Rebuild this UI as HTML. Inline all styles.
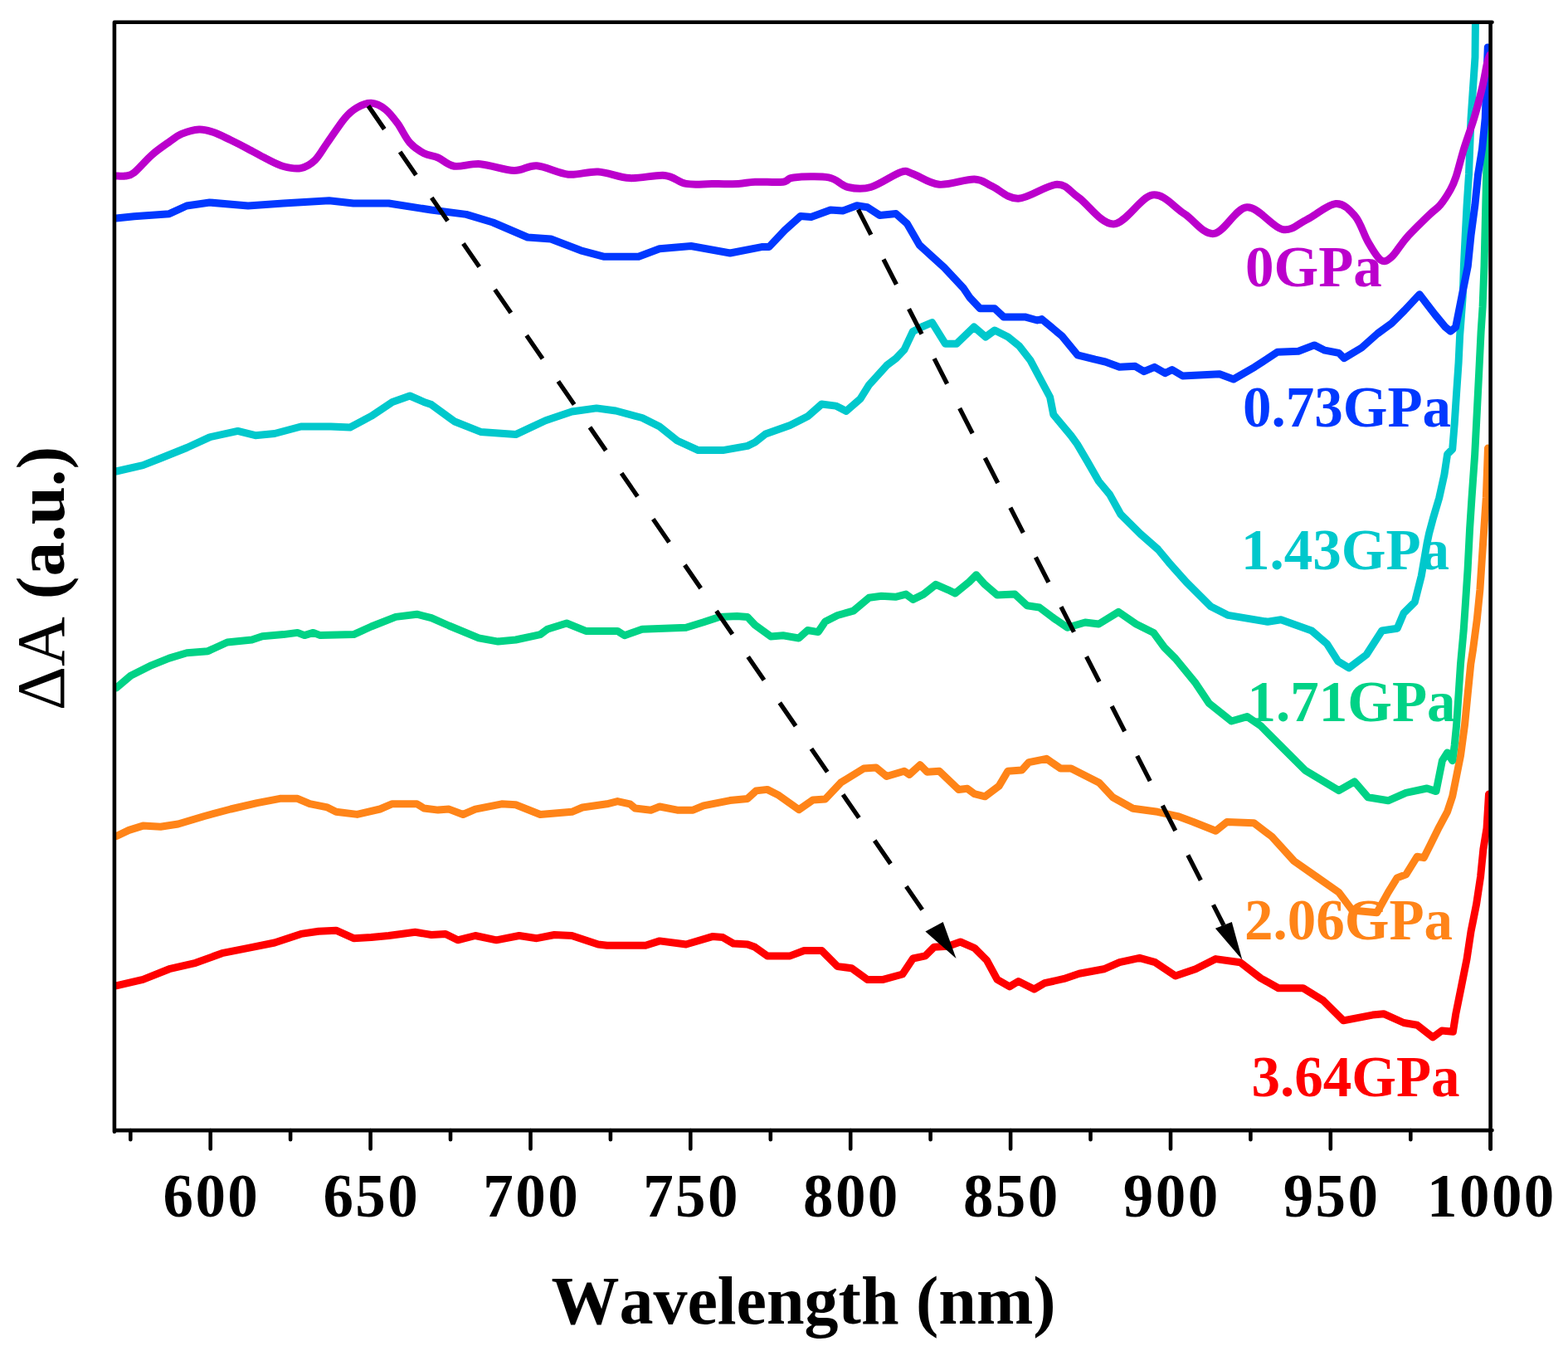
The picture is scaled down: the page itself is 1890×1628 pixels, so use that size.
<!DOCTYPE html>
<html><head><meta charset="utf-8"><title>Delta A vs Wavelength</title>
<style>html,body{margin:0;padding:0;background:#fff;width:1890px;height:1628px;overflow:hidden}svg{display:block}</style>
</head><body>
<svg width="1890" height="1628" viewBox="0 0 1890 1628"><rect x="0" y="0" width="1890" height="1628" fill="#fff"/>
<defs><clipPath id="pc"><rect x="137.9" y="26.7" width="1658.7" height="1335.4"/></clipPath></defs>
<g clip-path="url(#pc)" fill="none" stroke-width="9.0" stroke-linejoin="round" stroke-linecap="round">
<path d="M140.0 1187.8L172.3 1180.4L204.0 1167.7L235.8 1160.3L267.6 1148.7L299.3 1142.3L331.0 1136.0L362.8 1125.4L384.0 1122.2L405.1 1121.2L426.3 1130.7L447.5 1129.6L468.6 1127.5L500.4 1123.3L520.0 1126.5L537.0 1125.4L551.7 1132.8L572.9 1127.5L598.3 1132.8L625.8 1127.5L647.0 1130.7L668.2 1126.5L689.3 1127.5L721.0 1138.0L731.6 1139.2L778.2 1139.2L795.1 1133.9L826.9 1138.0L858.6 1128.6L871.3 1129.6L884.0 1137.0L901.0 1138.0L910.0 1141.3L924.8 1151.9L952.3 1151.9L969.3 1145.5L990.4 1145.5L1009.5 1164.6L1026.4 1166.7L1045.4 1180.4L1064.5 1180.4L1087.8 1174.0L1100.5 1155.0L1115.3 1151.9L1125.9 1141.3L1142.8 1140.2L1157.6 1135.0L1174.5 1142.3L1189.4 1157.1L1202.0 1180.4L1216.9 1188.9L1227.5 1182.5L1246.5 1192.0L1259.2 1184.7L1282.5 1179.4L1300.8 1173.2L1330.5 1167.8L1349.4 1159.7L1373.6 1154.3L1392.5 1159.7L1416.8 1175.9L1441.1 1167.8L1465.4 1155.6L1495.0 1159.7L1519.4 1178.6L1541.0 1190.7L1570.6 1190.7L1594.9 1205.6L1619.2 1229.8L1654.3 1223.1L1667.8 1221.7L1692.0 1232.5L1708.2 1235.2L1727.1 1250.0L1737.9 1242.0L1751.4 1243.3L1754.7 1222.2L1761.4 1189.0L1768.0 1155.8L1773.0 1122.7L1779.6 1089.5L1784.6 1056.3L1787.9 1023.2L1792.0 998.3L1794.5 957.0" stroke="#FF0000"/>
<path d="M140.0 1007.8L155.4 1000.4L172.3 995.1L193.5 996.2L214.7 993.0L246.4 983.5L278.1 975.0L309.9 967.6L337.4 962.3L358.6 962.3L373.4 968.7L394.6 972.9L405.1 978.2L430.5 981.4L458.0 975.0L472.9 968.7L502.5 968.7L511.0 974.0L528.0 976.1L541.2 975.1L558.1 981.5L572.9 975.1L604.7 968.8L621.6 969.8L651.2 981.5L689.3 978.3L702.0 973.0L731.6 968.8L744.3 965.6L759.2 968.8L765.5 974.0L784.5 976.2L795.1 972.0L816.3 976.2L835.3 976.2L848.0 970.9L879.8 964.6L901.0 962.4L911.5 952.9L924.8 951.4L937.5 957.7L962.9 975.7L979.8 964.0L994.7 963.0L1013.7 942.9L1041.2 926.0L1056.0 925.0L1068.7 935.5L1089.9 929.2L1096.2 933.4L1109.0 921.7L1117.4 930.2L1132.2 929.2L1155.5 951.4L1166.0 950.3L1174.5 956.7L1187.2 959.8L1204.2 947.1L1214.8 929.2L1231.7 928.1L1240.2 918.6L1261.3 914.3L1278.3 926.0L1291.0 926.0L1325.0 943.2L1341.3 960.7L1365.6 974.2L1395.2 978.3L1419.5 983.6L1438.4 990.5L1465.4 1001.2L1478.9 990.4L1511.3 991.7L1532.9 1008.0L1559.8 1037.6L1586.8 1056.5L1613.8 1075.4L1630.0 1097.0L1659.7 1099.7L1673.2 1075.4L1684.0 1057.9L1694.7 1053.8L1708.2 1032.2L1716.3 1033.6L1734.7 996.6L1744.6 978.1L1750.7 959.7L1755.6 935.1L1760.5 910.6L1765.5 873.7L1769.1 836.9L1772.8 800.0L1775.3 784.3L1780.2 747.4L1783.9 710.6L1786.3 673.7L1788.8 636.9L1791.3 600.0L1793.5 540.0" stroke="#FF8418"/>
<path d="M140.0 829.1L157.5 814.3L182.9 801.6L204.0 793.1L225.2 786.8L250.6 784.7L273.9 774.0L303.5 771.0L316.2 766.7L341.6 764.6L358.6 762.4L367.0 765.6L377.6 762.4L386.0 765.6L426.3 764.6L447.5 755.0L477.0 743.4L502.5 740.2L520.0 744.6L541.2 754.0L577.1 768.9L600.4 773.1L621.6 771.0L651.2 764.7L659.7 758.3L683.0 751.0L706.2 760.4L744.3 760.4L752.8 765.7L774.0 758.3L826.9 756.2L848.0 749.8L867.0 743.5L888.3 742.4L901.0 743.5L910.0 753.1L929.0 766.9L943.9 765.8L962.9 769.0L973.5 759.5L986.2 761.6L994.7 748.9L1009.5 741.5L1028.5 736.2L1047.6 720.3L1062.4 718.2L1079.3 719.3L1092.0 716.1L1100.5 722.4L1113.2 716.1L1128.0 704.4L1142.8 710.8L1151.3 715.0L1168.2 701.3L1176.7 692.8L1187.2 704.4L1202.0 717.1L1223.2 716.0L1238.0 729.8L1252.9 732.0L1269.8 744.7L1286.7 756.3L1308.0 750.0L1324.4 752.0L1348.2 737.4L1369.4 752.0L1390.5 762.5L1403.3 780.0L1416.8 793.5L1441.1 823.2L1457.3 847.5L1484.3 869.0L1503.2 863.6L1519.4 874.4L1543.6 898.7L1573.3 928.4L1613.8 952.7L1632.7 941.9L1648.9 960.8L1673.2 964.8L1694.7 955.4L1720.0 950.0L1731.0 953.6L1734.7 935.1L1738.4 916.7L1744.6 906.9L1750.7 916.7L1753.2 898.3L1755.6 873.7L1758.1 836.9L1760.5 800.0L1764.2 759.7L1766.7 722.9L1769.1 686.0L1771.6 636.9L1774.0 600.0L1777.7 547.4L1780.2 498.3L1782.7 449.0L1785.1 400.0L1787.1 369.7L1789.0 320.6L1790.2 271.4L1791.6 212.0L1793.3 155.0L1795.0 100.0" stroke="#00D286"/>
<path d="M140.0 568.0L172.3 560.6L193.5 552.2L225.2 539.5L252.7 526.8L286.6 519.4L307.8 524.7L331.0 522.5L362.8 514.0L398.8 514.0L422.0 515.0L447.5 501.4L472.9 484.4L494.0 477.0L511.0 484.4L520.0 487.6L547.5 507.7L579.3 520.4L621.6 523.6L657.6 506.7L689.3 496.0L719.0 491.9L742.2 495.0L774.0 503.5L795.0 514.0L816.3 531.0L841.7 542.6L871.3 542.6L901.0 537.4L910.0 533.0L922.7 523.0L952.3 512.4L973.5 501.8L990.4 487.0L1007.4 489.1L1020.0 495.4L1037.0 480.6L1047.6 463.7L1068.7 440.4L1080.0 431.9L1090.0 421.4L1100.3 399.5L1111.0 394.0L1123.5 388.6L1139.5 414.3L1153.0 414.3L1174.0 394.0L1188.0 406.0L1199.0 398.0L1215.0 406.0L1228.6 417.0L1242.2 434.6L1255.7 460.0L1265.6 478.5L1269.8 499.7L1291.0 525.0L1298.5 535.4L1311.0 556.6L1324.4 580.0L1337.6 595.9L1350.8 619.7L1374.7 643.5L1395.8 662.0L1409.0 677.9L1430.2 701.7L1459.3 730.8L1480.5 741.4L1528.0 749.3L1544.0 746.7L1581.0 760.0L1599.5 775.8L1612.8 796.9L1626.0 804.9L1647.0 789.0L1665.7 760.0L1684.2 757.2L1692.0 738.7L1705.3 725.5L1713.3 693.8L1720.0 655.0L1722.5 643.0L1727.4 624.6L1734.7 600.0L1740.9 572.0L1744.6 547.4L1750.7 541.3L1753.2 510.6L1755.6 473.7L1758.1 436.9L1759.6 405.0L1763.2 357.4L1764.4 320.6L1766.2 283.7L1768.1 246.9L1770.5 210.0L1773.0 142.8L1775.5 106.0L1778.0 69.0L1778.5 20.0" stroke="#00C8CC"/>
<path d="M140.0 263.0L161.7 260.8L204.0 257.7L225.0 248.0L252.7 244.0L299.0 248.0L341.6 245.0L396.7 241.8L426.0 245.0L468.6 245.0L520.0 253.0L562.0 258.4L594.0 268.0L636.0 286.0L664.0 288.0L700.0 301.8L727.4 309.2L769.7 309.2L795.0 299.7L833.0 296.5L880.0 305.0L918.0 297.6L927.0 297.5L946.0 277.4L965.0 260.4L977.7 261.5L1001.0 253.0L1015.8 254.0L1032.8 247.7L1045.5 249.8L1060.3 259.4L1080.0 257.6L1093.5 269.7L1108.4 295.4L1123.2 308.9L1138.1 322.4L1161.0 346.8L1169.2 358.9L1181.4 371.8L1198.9 371.8L1209.7 381.9L1235.4 381.9L1250.3 386.0L1255.7 384.6L1280.0 404.9L1298.9 427.8L1320.0 433.2L1332.3 436.0L1349.3 442.3L1368.3 441.3L1378.9 447.6L1391.6 442.3L1404.3 449.7L1412.8 445.5L1425.5 453.0L1470.0 450.8L1486.8 457.0L1512.2 442.3L1539.7 424.3L1565.0 423.3L1584.2 415.9L1596.9 422.2L1613.8 425.4L1620.2 431.7L1641.3 419.0L1660.4 402.0L1677.4 389.6L1693.0 374.0L1711.0 354.7L1723.8 371.5L1723.8 371.5L1730.0 379.5L1742.3 394.3L1748.4 399.2L1754.6 394.3L1759.5 369.7L1764.4 345.0L1769.3 320.6L1773.0 283.7L1777.9 246.9L1781.6 210.0L1786.5 179.7L1790.2 142.8L1793.3 56.9" stroke="#0038FF"/>
<path d="M140.0 212.0C141.8 212.0 147.4 212.7 151.0 212.0C154.6 211.3 156.4 212.2 161.7 208.0C167.0 203.8 175.8 193.0 182.9 186.8C190.0 180.6 198.0 175.2 204.0 171.0C210.0 166.8 212.9 163.9 218.9 161.4C224.9 158.9 233.7 156.3 240.0 156.0C246.3 155.7 250.7 157.2 257.0 159.3C263.3 161.4 271.0 165.5 278.0 168.8C285.0 172.2 291.9 175.7 299.0 179.4C306.1 183.1 313.4 187.5 320.5 191.0C327.6 194.5 334.6 198.6 341.6 200.5C348.7 202.4 356.5 203.8 362.8 202.6C369.1 201.3 374.4 198.1 379.7 193.0C385.0 187.9 388.6 180.4 394.6 172.0C400.6 163.6 409.7 149.4 415.7 142.3C421.7 135.2 425.2 132.6 430.5 129.6C435.8 126.6 441.9 124.0 447.5 124.3C453.1 124.6 459.1 127.6 464.4 131.7C469.7 135.8 474.3 142.0 479.2 148.7C484.1 155.4 488.7 166.0 494.0 172.0C499.3 178.0 505.3 181.7 511.0 184.7C516.7 187.7 521.9 187.4 528.0 190.0C534.1 192.6 539.0 198.9 547.5 200.2C556.0 201.5 567.0 196.8 579.0 197.7C591.0 198.6 608.2 205.2 619.5 205.5C630.8 205.8 636.1 199.0 647.0 199.8C657.9 200.6 672.7 209.0 685.0 210.2C697.3 211.4 708.7 206.3 721.0 207.0C733.3 207.7 745.6 213.9 759.0 214.6C772.4 215.3 790.2 210.3 801.5 211.4C812.8 212.5 817.6 219.7 827.0 221.4C836.4 223.1 847.5 221.6 858.0 221.6C868.5 221.6 881.3 221.8 890.0 221.4C898.7 221.0 901.0 219.6 910.0 219.2C919.0 218.8 936.1 220.1 943.9 219.2C951.7 218.3 947.4 214.8 956.6 213.9C965.8 213.0 988.0 212.0 998.9 213.9C1009.8 215.8 1013.5 223.6 1022.0 225.5C1030.5 227.4 1039.1 228.5 1049.7 225.5C1060.3 222.5 1077.2 210.2 1085.7 207.5C1094.2 204.8 1092.8 207.1 1100.5 209.6C1108.2 212.1 1119.7 221.2 1132.0 222.3C1144.3 223.4 1163.9 215.7 1174.5 216.0C1185.1 216.3 1186.9 220.5 1195.7 224.4C1204.5 228.3 1214.5 239.7 1227.5 239.3C1240.5 239.0 1261.9 222.5 1274.0 222.3C1286.1 222.1 1288.6 230.1 1300.0 238.0C1311.4 245.9 1327.5 270.5 1342.3 270.0C1357.1 269.5 1374.8 237.1 1388.9 235.0C1403.0 232.9 1414.7 249.4 1427.0 257.2C1439.3 265.0 1450.3 282.8 1463.0 281.6C1475.7 280.4 1489.2 250.7 1503.0 249.8C1516.8 248.9 1533.5 273.8 1545.5 276.3C1557.5 278.8 1564.2 269.8 1575.0 264.7C1585.8 259.6 1600.2 246.3 1610.0 245.6C1619.8 244.9 1627.0 253.0 1633.5 260.6C1640.0 268.2 1643.8 282.7 1649.0 291.5C1654.2 300.3 1659.8 310.5 1664.5 313.5C1669.2 316.5 1672.2 314.1 1677.4 309.6C1682.6 305.1 1687.8 295.0 1695.5 286.4C1703.2 277.8 1717.0 264.6 1723.8 258.0C1730.6 251.4 1732.0 251.8 1736.1 246.9C1740.2 242.0 1745.2 234.1 1748.4 228.4C1751.6 222.8 1752.3 221.1 1755.0 213.0C1757.7 204.9 1760.8 191.4 1764.4 179.7C1768.0 168.0 1773.0 155.1 1776.7 142.8C1780.4 130.5 1783.8 117.2 1786.5 106.0C1789.2 94.8 1791.1 82.0 1792.7 75.3C1794.3 68.6 1795.5 67.5 1796.0 66.0" stroke="#BB00CC"/>
</g>
<line x1="444.0" y1="127.6" x2="1126.0" y2="1117.0" stroke="#000" stroke-width="5.4" stroke-dasharray="34 33.2"/><polygon points="1115.4,1122.6 1152.5,1155.0 1136.7,1111.0" fill="#000"/>
<line x1="1034.4" y1="252.6" x2="1475.0" y2="1115.0" stroke="#000" stroke-width="5.4" stroke-dasharray="34 33.2"/><polygon points="1464.9,1118.7 1497.3,1156.6 1484.8,1111.0" fill="#000"/>
<g stroke="#000" stroke-width="4.6" stroke-linecap="round" fill="none">
<path d="M137.9 26.7L1798.5 26.7M137.9 1362.1L1798.5 1362.1M137.9 26.7L137.9 1363.7M1796.6 26.7L1796.6 1384.5"/>
<path d="M157.3 1362.1L157.3 1373.2M253.7 1362.1L253.7 1384.5M350.1 1362.1L350.1 1373.2M446.6 1362.1L446.6 1384.5M543.0 1362.1L543.0 1373.2M639.5 1362.1L639.5 1384.5M735.9 1362.1L735.9 1373.2M832.3 1362.1L832.3 1384.5M928.8 1362.1L928.8 1373.2M1025.2 1362.1L1025.2 1384.5M1121.6 1362.1L1121.6 1373.2M1218.1 1362.1L1218.1 1384.5M1314.5 1362.1L1314.5 1373.2M1411.0 1362.1L1411.0 1384.5M1507.4 1362.1L1507.4 1373.2M1603.8 1362.1L1603.8 1384.5M1700.3 1362.1L1700.3 1373.2M1796.7 1362.1L1796.7 1384.5"/>
</g>
<g font-family="Liberation Serif, Times New Roman, serif" font-weight="bold" font-size="73" letter-spacing="2.4" text-anchor="middle" fill="#000">
<text x="254.9" y="1466">600</text>
<text x="447.8" y="1466">650</text>
<text x="640.7" y="1466">700</text>
<text x="833.5" y="1466">750</text>
<text x="1026.4" y="1466">800</text>
<text x="1219.3" y="1466">850</text>
<text x="1412.2" y="1466">900</text>
<text x="1605.0" y="1466">950</text>
<text x="1797.9" y="1466">1000</text>
</g>
<text x="968.5" y="1595" font-family="Liberation Serif, Times New Roman, serif" font-weight="bold" font-size="82" text-anchor="middle" fill="#000" style="font-kerning:none">Wavelength (nm)</text>
<text transform="translate(77 697) rotate(-90)" font-family="Liberation Serif, Times New Roman, serif" font-weight="bold" font-size="83" text-anchor="middle" fill="#000"><tspan font-weight="normal">&#916;A</tspan> (a.u.)</text>
<g font-family="Liberation Serif, Times New Roman, serif" font-weight="bold" font-size="69">
<text x="1501.0" y="345.2" fill="#BB00CC">0GPa</text>
<text x="1498.0" y="513.5" fill="#0038FF">0.73GPa</text>
<text x="1496.0" y="685.8" fill="#00C8CC">1.43GPa</text>
<text x="1503.5" y="869.0" fill="#00D286">1.71GPa</text>
<text x="1500.0" y="1132.0" fill="#FF8418">2.06GPa</text>
<text x="1508.5" y="1321.0" fill="#FF0000">3.64GPa</text>
</g></svg>
</body></html>
